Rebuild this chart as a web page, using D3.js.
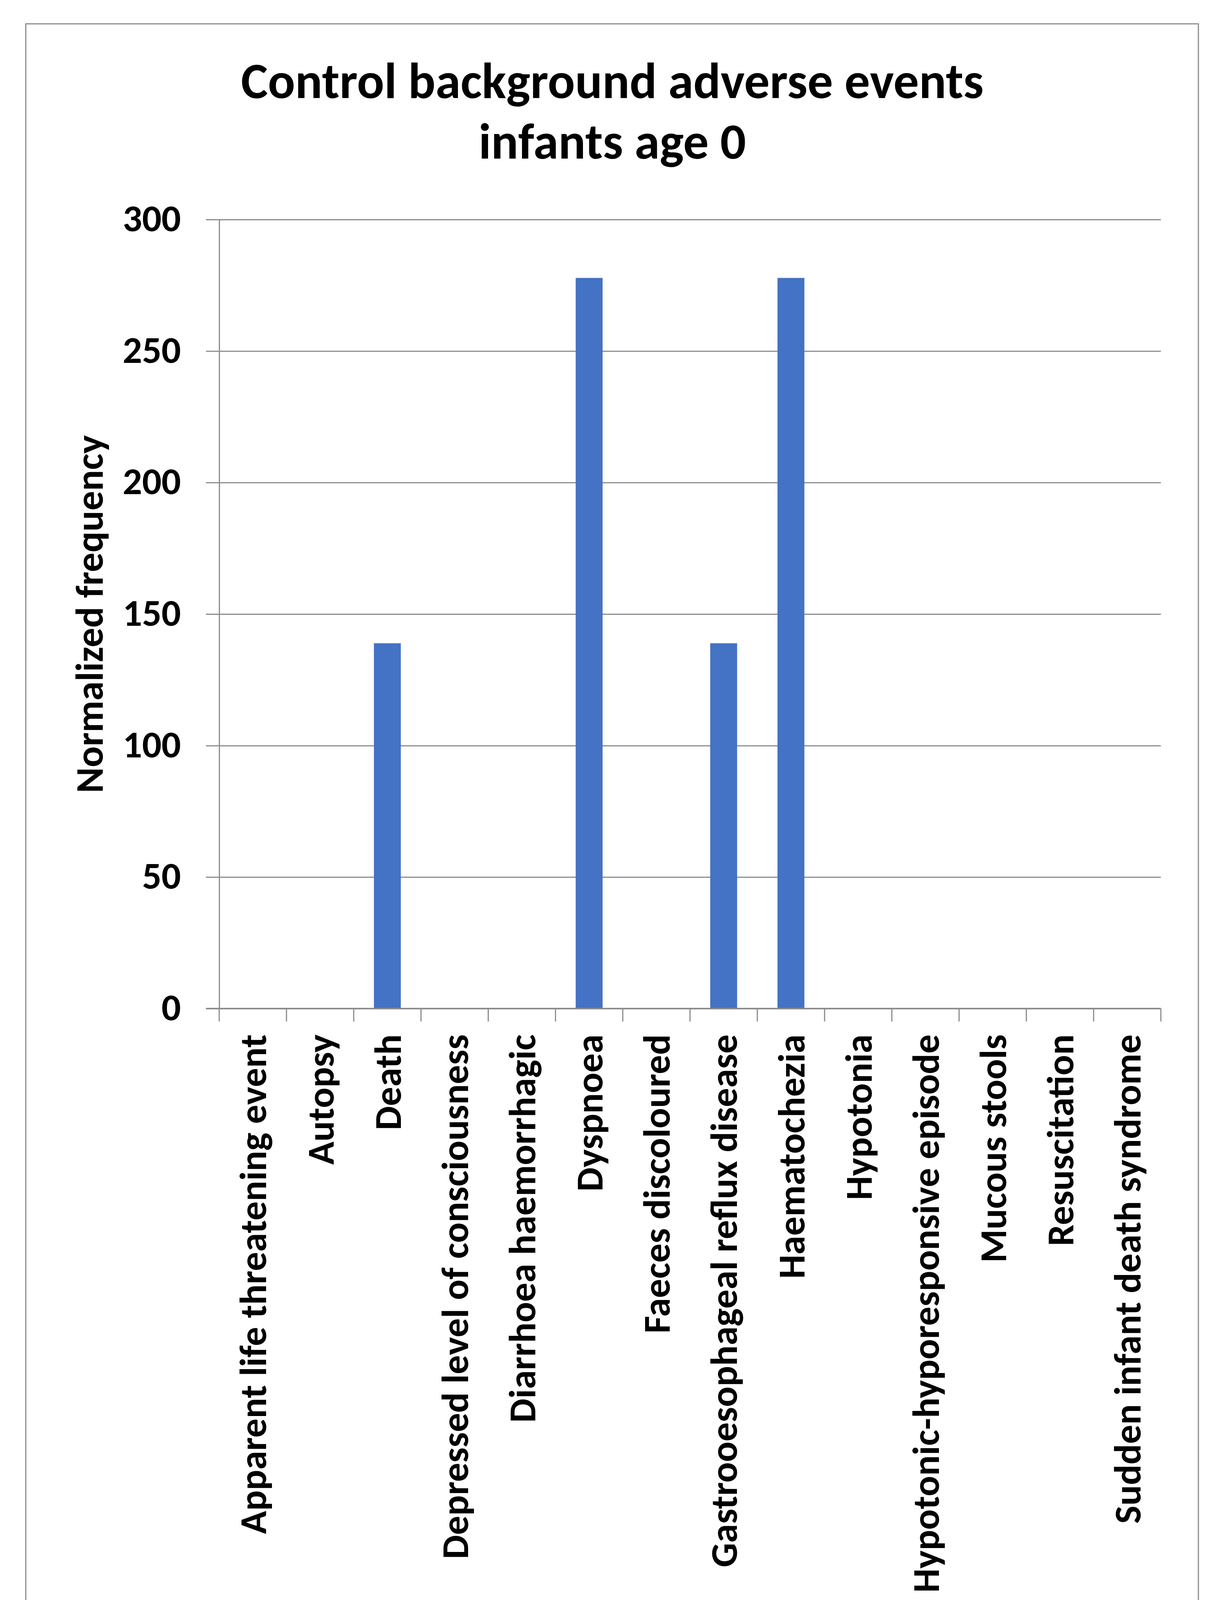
<!DOCTYPE html>
<html>
<head>
    <meta charset="utf-8">
    <script src="https://d3js.org/d3.v7.min.js"></script>
    <style>
        html, body { margin: 0; padding: 0; background: #fff; overflow: hidden; }
        svg { display: block; }
        text { font-family: Carlito, Calibri, Lato, sans-serif; }
    </style>
</head>
<body>
    <svg width="3130" height="4234"></svg>

    <script>
        // data
        var categories = [
            "Apparent life threatening event",
            "Autopsy",
            "Death",
            "Depressed level of consciousness",
            "Diarrhoea haemorrhagic",
            "Dyspnoea",
            "Faeces discoloured",
            "Gastrooesophageal reflux disease",
            "Haematochezia",
            "Hypotonia",
            "Hypotonic-hyporesponsive episode",
            "Mucous stools",
            "Resuscitation",
            "Sudden infant death syndrome"
        ];
        var values = [0, 0, 138.9, 0, 0, 277.8, 0, 138.9, 277.8, 0, 0, 0, 0, 0];
        var yTicks = [0, 50, 100, 150, 200, 250, 300];
        var titleLines = ["Control background adverse events", "infants age 0"];
        var yTitle = "Normalized frequency";

        var width = 3130, height = 4234;
        var margin = { top: 562, left: 561, right: 159, bottom: 1652 };
        var plotW = width - margin.left - margin.right;
        var plotH = height - margin.top - margin.bottom;
        var grey = "#8c8c8c";

        var svg = d3.select("svg");

        svg.append("rect")
            .attr("x", 0).attr("y", 0)
            .attr("width", width).attr("height", height)
            .attr("fill", "#fff");

        // chart border
        svg.append("rect")
            .attr("x", 66).attr("y", 61)
            .attr("width", 3001).attr("height", 4100)
            .attr("fill", "none")
            .attr("stroke", grey)
            .attr("stroke-width", 3);

        var g = svg.append("g")
            .attr("transform", "translate(" + margin.left + "," + margin.top + ")");

        var x = d3.scaleBand()
            .domain(categories)
            .range([0, plotW])
            .paddingInner(0.6)
            .paddingOuter(0.3);

        var y = d3.scaleLinear()
            .domain([0, 300])
            .range([plotH, 0]);

        // gridlines + y labels
        var yAxis = g.append("g")
            .call(d3.axisLeft(y).tickValues(yTicks).tickSize(34).tickPadding(64));
        yAxis.select(".domain").attr("stroke", grey).attr("stroke-width", 3);
        yAxis.selectAll(".tick line")
            .attr("x1", -34).attr("x2", plotW)
            .attr("stroke", grey).attr("stroke-width", 3);
        yAxis.selectAll(".tick text")
            .attr("dy", "0.3em")
            .style("font-size", "98px")
            .style("font-weight", "bold")
            .attr("fill", "#000");

        // bars
        g.selectAll(".bar")
            .data(values)
            .enter().append("rect")
            .attr("class", "bar")
            .attr("x", function(d, i) { return x(categories[i]); })
            .attr("width", x.bandwidth())
            .attr("y", function(d) { return y(d); })
            .attr("height", function(d) { return plotH - y(d); })
            .attr("fill", "#4472c4");

        // x axis
        var xAxis = g.append("g")
            .attr("transform", "translate(0," + plotH + ")")
            .call(d3.axisBottom(x).tickSize(0).tickPadding(0));
        xAxis.select(".domain").remove();
        xAxis.selectAll(".tick text")
            .attr("transform", "rotate(-90)")
            .attr("x", -66)
            .attr("y", 0)
            .attr("dy", "0.35em")
            .style("text-anchor", "end")
            .style("font-size", "98px")
            .style("font-weight", "bold")
            .attr("fill", "#000");

        g.append("line")
            .attr("x1", -34).attr("x2", plotW)
            .attr("y1", plotH).attr("y2", plotH)
            .attr("stroke", grey).attr("stroke-width", 4);

        var bounds = d3.range(categories.length + 1).map(function(i) {
            return x.range()[0] + i * x.step();
        });
        g.selectAll(".xtick")
            .data(bounds)
            .enter().append("line")
            .attr("x1", function(d) { return d; })
            .attr("x2", function(d) { return d; })
            .attr("y1", plotH).attr("y2", plotH + 33)
            .attr("stroke", grey).attr("stroke-width", 3);

        // y axis title
        svg.append("text")
            .attr("transform", "translate(263," + (margin.top + plotH / 2) + ") rotate(-90)")
            .style("text-anchor", "middle")
            .style("font-size", "100px")
            .style("font-weight", "bold")
            .text(yTitle);

        // title
        svg.selectAll(".title")
            .data(titleLines)
            .enter().append("text")
            .attr("class", "title")
            .attr("x", 1567)
            .attr("y", function(d, i) { return 251 + i * 155; })
            .style("text-anchor", "middle")
            .style("font-size", "130px")
            .style("font-weight", "bold")
            .text(function(d) { return d; });
    </script>
</body>
</html>
